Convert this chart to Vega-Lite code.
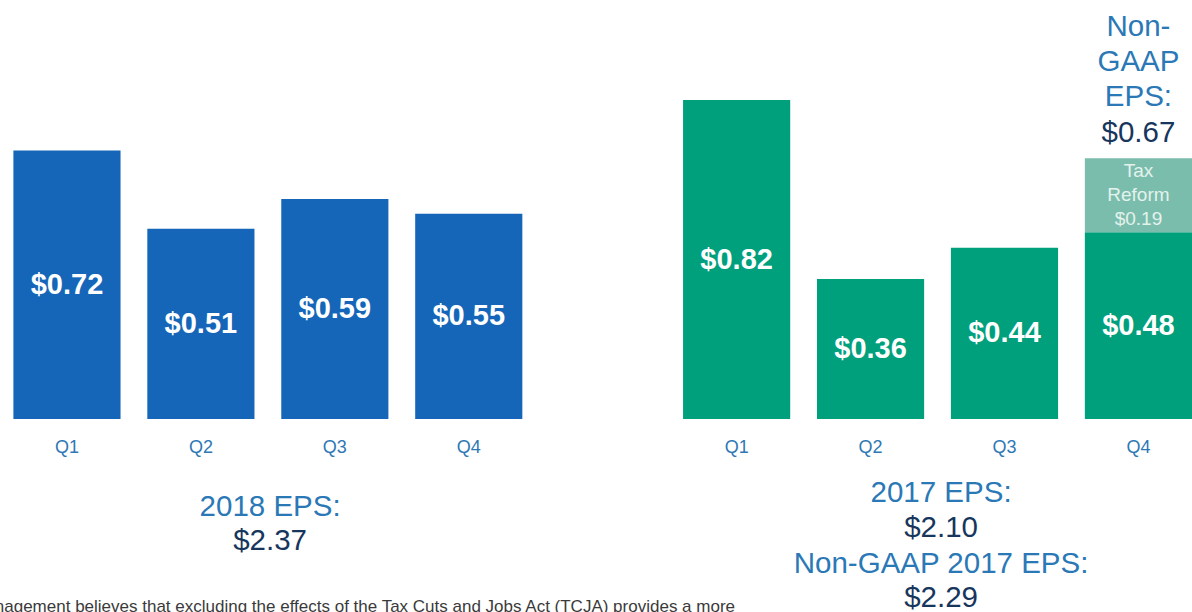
{
  "$schema": "https://vega.github.io/schema/vega-lite/v6.json",
  "width": 1192,
  "height": 419,
  "autosize": {"type": "none"},
  "padding": {"left": 0, "top": 0, "right": 0, "bottom": 193},
  "background": "white",
  "config": {"view": {"stroke": null}, "font": "Liberation Sans", "text": {"font": "Liberation Sans"}},
  "datasets": {
    "eps": [
      {"year": "2018", "slot": "2018 Q1", "segment": "2018 EPS", "value": 0.72, "label": "$0.72", "total": "$0.72"},
      {"year": "2018", "slot": "2018 Q2", "segment": "2018 EPS", "value": 0.51, "label": "$0.51", "total": "$0.51"},
      {"year": "2018", "slot": "2018 Q3", "segment": "2018 EPS", "value": 0.59, "label": "$0.59", "total": "$0.59"},
      {"year": "2018", "slot": "2018 Q4", "segment": "2018 EPS", "value": 0.55, "label": "$0.55", "total": "$0.55"},
      {"year": "2017", "slot": "2017 Q1", "segment": "2017 EPS", "value": 0.82, "label": "$0.82", "total": "$0.82"},
      {"year": "2017", "slot": "2017 Q2", "segment": "2017 EPS", "value": 0.36, "label": "$0.36", "total": "$0.36"},
      {"year": "2017", "slot": "2017 Q3", "segment": "2017 EPS", "value": 0.44, "label": "$0.44", "total": "$0.44"},
      {"year": "2017", "slot": "2017 Q4", "segment": "2017 EPS", "value": 0.48, "label": "$0.48", "total": "$0.67"},
      {"year": "2017", "slot": "2017 Q4", "segment": "Tax Reform", "value": 0.19, "label": "$0.19", "total": "$0.67"}
    ]
  },
  "data": {"name": "eps"},
  "encoding": {
    "x": {
      "field": "slot",
      "type": "nominal",
      "title": null,
      "scale": {
        "domain": ["2018 Q1", "2018 Q2", "2018 Q3", "2018 Q4", "gap", "2017 Q1", "2017 Q2", "2017 Q3", "2017 Q4"],
        "paddingInner": 0.2,
        "paddingOuter": 0.05,
        "align": 1
      },
      "axis": {
        "orient": "bottom",
        "labelExpr": "datum.value === 'gap' ? '' : slice(datum.value, 5)",
        "labelAngle": 0,
        "labelColor": "#2e78b5",
        "labelFontSize": 18,
        "labelFont": "Liberation Sans",
        "labelPadding": 19,
        "domain": false,
        "ticks": false,
        "grid": false
      }
    }
  },
  "layer": [
    {
      "layer": [
        {
          "transform": [{"filter": "datum.year === '2018'"}],
          "mark": {"type": "bar", "color": "#1566b8"},
          "encoding": {
            "y": {"field": "value", "type": "quantitative", "scale": {"domain": [0, 1.1233], "nice": false}, "axis": null}
          }
        },
        {
          "transform": [{"filter": "datum.year === '2018'"}],
          "mark": {"type": "text", "color": "white", "fontSize": 29, "fontWeight": "bold", "baseline": "middle"},
          "encoding": {
            "y": {"field": "value", "type": "quantitative", "scale": {"domain": [0, 2.2466], "nice": false}, "axis": null},
            "text": {"field": "label"}
          }
        },
        {
          "data": {"values": [{}]},
          "mark": {"type": "text", "text": "2018 EPS:", "fontSize": 29.5, "color": "#2a78b6", "baseline": "middle", "dy": 88},
          "encoding": {
            "x": {"datum": "2018 Q2", "bandPosition": 1.146},
            "y": {"datum": 0, "type": "quantitative", "scale": {"domain": [0, 1.1233], "nice": false}, "axis": null}
          }
        },
        {
          "data": {"values": [{}]},
          "mark": {"type": "text", "text": "$2.37", "fontSize": 29.5, "color": "#17365d", "baseline": "middle", "dy": 122},
          "encoding": {
            "x": {"datum": "2018 Q2", "bandPosition": 1.146},
            "y": {"datum": 0, "type": "quantitative", "scale": {"domain": [0, 1.1233], "nice": false}, "axis": null}
          }
        }
      ],
      "resolve": {"scale": {"y": "independent"}}
    },
    {
      "layer": [
        {
          "transform": [{"filter": "datum.year === '2017'"}],
          "mark": {"type": "bar"},
          "encoding": {
            "y": {"field": "value", "type": "quantitative", "stack": "zero", "scale": {"domain": [0, 1.0771], "nice": false}, "axis": null},
            "color": {"field": "segment", "type": "nominal", "scale": {"domain": ["2017 EPS", "Tax Reform"], "range": ["#00a07d", "#7bbdac"]}, "legend": null},
            "order": {"field": "segment", "sort": "ascending"}
          }
        },
        {
          "transform": [{"filter": "datum.segment === '2017 EPS'"}],
          "mark": {"type": "text", "color": "white", "fontSize": 29, "fontWeight": "bold", "baseline": "middle"},
          "encoding": {
            "y": {"field": "value", "type": "quantitative", "scale": {"domain": [0, 2.1542], "nice": false}, "axis": null},
            "text": {"field": "label"}
          }
        },
        {
          "transform": [{"filter": "datum.year === '2017'"}],
          "mark": {"type": "text", "color": "#e4f2ed", "fontSize": 19, "baseline": "middle", "lineHeight": 24, "dy": 13},
          "encoding": {
            "y": {"field": "value", "type": "quantitative", "stack": "zero", "scale": {"domain": [0, 1.0771], "nice": false}, "axis": null},
            "detail": {"field": "segment"},
            "order": {"field": "segment", "sort": "ascending"},
            "text": {"condition": {"test": "datum.segment === 'Tax Reform'", "value": ["Tax", "Reform", "$0.19"]}, "value": ""}
          }
        },
        {
          "transform": [{"filter": "datum.year === '2017'"}],
          "mark": {"type": "text", "color": "#17365d", "fontSize": 29.5, "baseline": "middle", "dy": -25},
          "encoding": {
            "y": {"field": "value", "type": "quantitative", "stack": "zero", "scale": {"domain": [0, 1.0771], "nice": false}, "axis": null},
            "detail": {"field": "segment"},
            "order": {"field": "segment", "sort": "ascending"},
            "text": {"condition": {"test": "datum.segment === 'Tax Reform'", "field": "total"}, "value": ""}
          }
        },
        {
          "transform": [{"filter": "datum.year === '2017'"}],
          "mark": {"type": "text", "color": "#2a78b6", "fontSize": 29.5, "baseline": "middle", "lineHeight": 35, "dy": -131},
          "encoding": {
            "y": {"field": "value", "type": "quantitative", "stack": "zero", "scale": {"domain": [0, 1.0771], "nice": false}, "axis": null},
            "detail": {"field": "segment"},
            "order": {"field": "segment", "sort": "ascending"},
            "text": {"condition": {"test": "datum.segment === 'Tax Reform'", "value": ["Non-", "GAAP", "EPS:"]}, "value": ""}
          }
        },
        {
          "data": {"values": [{}]},
          "mark": {"type": "text", "text": "2017 EPS:", "fontSize": 29.5, "color": "#2a78b6", "baseline": "middle", "dy": 74},
          "encoding": {
            "x": {"datum": "2017 Q2", "bandPosition": 1.158},
            "y": {"datum": 0, "type": "quantitative", "scale": {"domain": [0, 1.0771], "nice": false}, "axis": null}
          }
        },
        {
          "data": {"values": [{}]},
          "mark": {"type": "text", "text": "$2.10", "fontSize": 29.5, "color": "#17365d", "baseline": "middle", "dy": 109},
          "encoding": {
            "x": {"datum": "2017 Q2", "bandPosition": 1.158},
            "y": {"datum": 0, "type": "quantitative", "scale": {"domain": [0, 1.0771], "nice": false}, "axis": null}
          }
        },
        {
          "data": {"values": [{}]},
          "mark": {"type": "text", "text": "Non-GAAP 2017 EPS:", "fontSize": 29.5, "color": "#2a78b6", "baseline": "middle", "dy": 145},
          "encoding": {
            "x": {"datum": "2017 Q2", "bandPosition": 1.158},
            "y": {"datum": 0, "type": "quantitative", "scale": {"domain": [0, 1.0771], "nice": false}, "axis": null}
          }
        },
        {
          "data": {"values": [{}]},
          "mark": {"type": "text", "text": "$2.29", "fontSize": 29.5, "color": "#17365d", "baseline": "middle", "dy": 179},
          "encoding": {
            "x": {"datum": "2017 Q2", "bandPosition": 1.158},
            "y": {"datum": 0, "type": "quantitative", "scale": {"domain": [0, 1.0771], "nice": false}, "axis": null}
          }
        },
        {
          "data": {"values": [{}]},
          "mark": {"type": "text", "text": "Management believes that excluding the effects of the Tax Cuts and Jobs Act (TCJA) provides a more", "fontSize": 17, "color": "#3a3a3a", "align": "right", "baseline": "middle", "dy": 188},
          "encoding": {
            "x": {"datum": "2017 Q1", "bandPosition": 0.485},
            "y": {"datum": 0, "type": "quantitative", "scale": {"domain": [0, 1.0771], "nice": false}, "axis": null}
          }
        }
      ],
      "resolve": {"scale": {"y": "independent"}}
    }
  ],
  "resolve": {"scale": {"y": "independent"}}
}
